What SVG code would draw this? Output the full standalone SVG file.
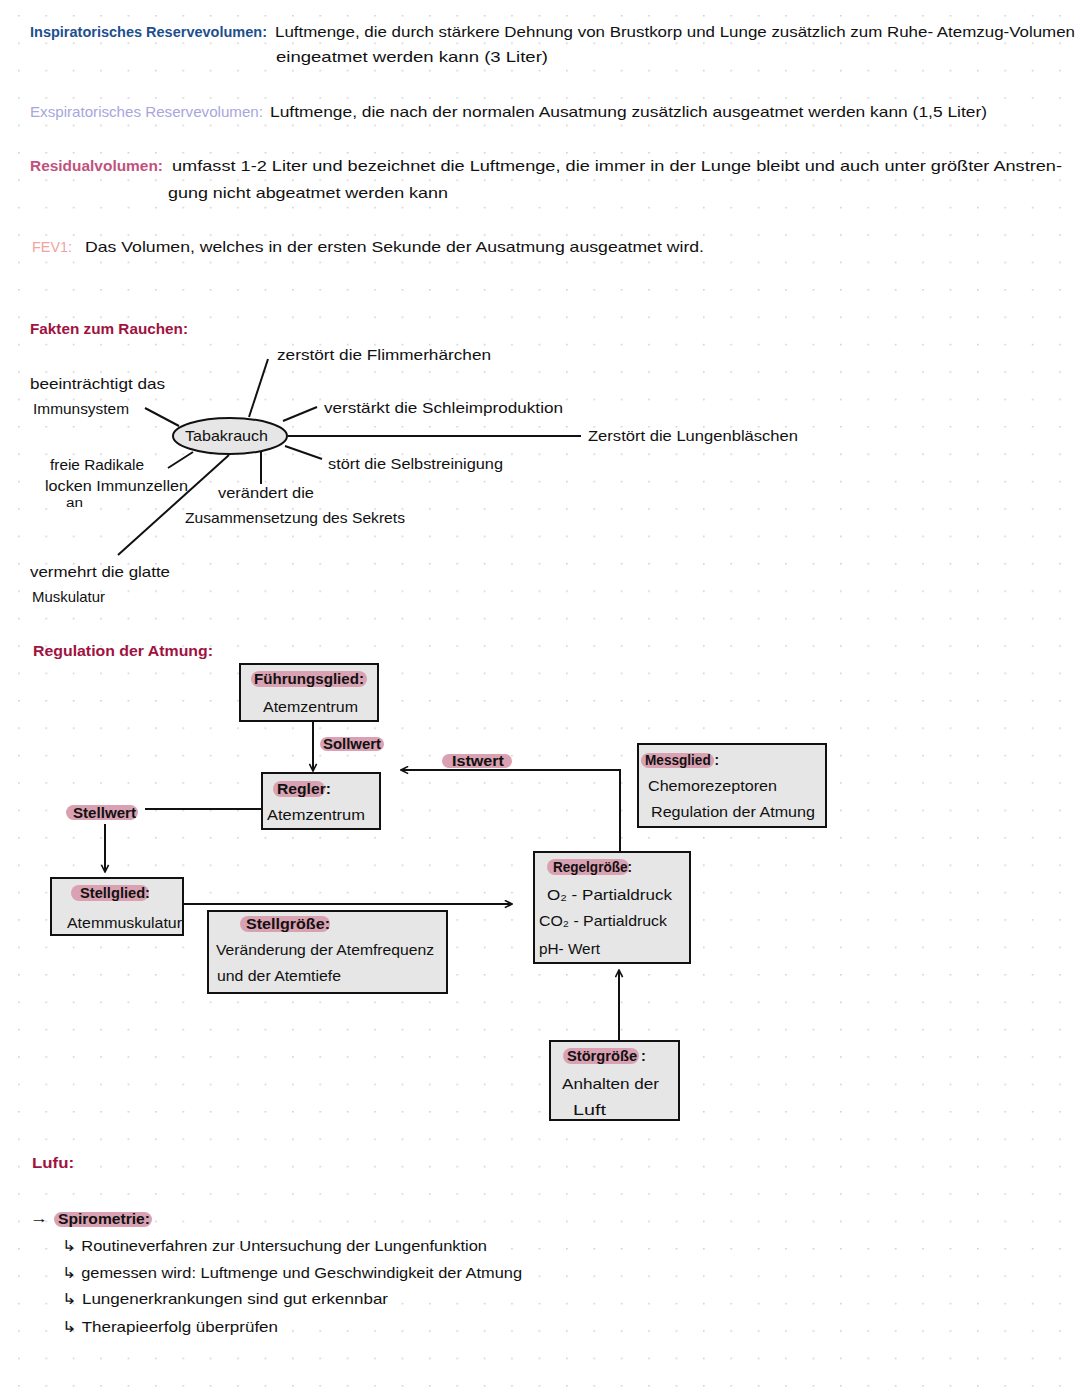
<svg xmlns="http://www.w3.org/2000/svg" width="1080" height="1394" viewBox="0 0 1080 1394">
<defs>
<pattern id="dots" x="18" y="15" width="27.4" height="27.4" patternUnits="userSpaceOnUse">
<circle cx="0.8" cy="0.8" r="0.9" fill="#cfcfcf"/>
</pattern>
<marker id="ah" viewBox="0 0 10 10" refX="9" refY="5" markerWidth="9" markerHeight="9" markerUnits="userSpaceOnUse" orient="auto">
<path d="M1,1 L9,5 L1,9" fill="none" stroke="#111" stroke-width="1.8"/>
</marker>
<style>
text{font-family:"Liberation Sans","Noto Sans",sans-serif;font-size:14.5px;fill:#111;}
.h{fill:#a0123f;font-weight:bold;}
.blue{fill:#1d4f8f;font-weight:bold;}
.lav{fill:#a8a6dd;}
.mau{fill:#c0527e;font-weight:bold;}
.sal{fill:#f2a2a0;}
.b{font-weight:bold;}
.sm{font-size:12px;}
.box{fill:#e6e6e6;stroke:#111;stroke-width:2;}
.hl{fill:#d9a1b1;}
.ln{stroke:#111;stroke-width:2;fill:none;}
</style>
</defs>
<rect width="1080" height="1394" fill="#fff"/>
<rect width="1080" height="1394" fill="url(#dots)"/>

<g id="definitions">
<text x="30" y="37" class="blue" textLength="237" lengthAdjust="spacingAndGlyphs">Inspiratorisches Reservevolumen:</text>
<text x="275" y="37" textLength="800" lengthAdjust="spacingAndGlyphs">Luftmenge, die durch stärkere Dehnung von Brustkorp und Lunge zusätzlich zum Ruhe- Atemzug-Volumen</text>
<text x="276" y="62" textLength="272" lengthAdjust="spacingAndGlyphs">eingeatmet werden kann   (3 Liter)</text>
<text x="30" y="117" class="lav" textLength="233" lengthAdjust="spacingAndGlyphs">Exspiratorisches Reservevolumen:</text>
<text x="270" y="117" textLength="717" lengthAdjust="spacingAndGlyphs">Luftmenge, die nach der normalen Ausatmung zusätzlich ausgeatmet werden kann   (1,5 Liter)</text>
<text x="30" y="171" class="mau" textLength="133" lengthAdjust="spacingAndGlyphs">Residualvolumen:</text>
<text x="172" y="171" textLength="890" lengthAdjust="spacingAndGlyphs">umfasst 1-2 Liter und bezeichnet die Luftmenge, die immer in der Lunge bleibt und auch unter größter Anstren-</text>
<text x="168" y="198" textLength="280" lengthAdjust="spacingAndGlyphs">gung nicht abgeatmet werden kann</text>
<text x="32" y="252" class="sal" textLength="40" lengthAdjust="spacingAndGlyphs">FEV1:</text>
<text x="85" y="252" textLength="619" lengthAdjust="spacingAndGlyphs">Das Volumen, welches in der ersten Sekunde der Ausatmung ausgeatmet wird.</text>
</g>

<g id="rauchen">
<text x="30" y="334" class="h" textLength="158" lengthAdjust="spacingAndGlyphs">Fakten zum Rauchen:</text>
<g id="mm-connectors">
<line class="ln" x1="249" y1="417" x2="268" y2="359"/>
<line class="ln" x1="145" y1="408" x2="179" y2="426"/>
<line class="ln" x1="283" y1="421" x2="317" y2="407"/>
<line class="ln" x1="288" y1="436" x2="581" y2="436"/>
<line class="ln" x1="285" y1="446" x2="322" y2="459"/>
<line class="ln" x1="168" y1="468" x2="193" y2="452"/>
<line class="ln" x1="261" y1="452" x2="261" y2="484"/>
<line class="ln" x1="229" y1="455" x2="118" y2="555"/>
</g>
<g id="tabakrauch">
<ellipse cx="230" cy="436" rx="57" ry="18" fill="#e6e6e6" stroke="#111" stroke-width="2"/>
<text x="185" y="441" textLength="83" lengthAdjust="spacingAndGlyphs">Tabakrauch</text>
</g>
<text x="277" y="360" textLength="214" lengthAdjust="spacingAndGlyphs">zerstört die Flimmerhärchen</text>
<text x="30" y="389" textLength="135" lengthAdjust="spacingAndGlyphs">beeinträchtigt das</text>
<text x="33" y="414" textLength="96" lengthAdjust="spacingAndGlyphs">Immunsystem</text>
<text x="324" y="413" textLength="239" lengthAdjust="spacingAndGlyphs">verstärkt  die Schleimproduktion</text>
<text x="588" y="441" textLength="210" lengthAdjust="spacingAndGlyphs">Zerstört die Lungenbläschen</text>
<text x="328" y="469" textLength="175" lengthAdjust="spacingAndGlyphs">stört die Selbstreinigung</text>
<text x="50" y="470" textLength="94" lengthAdjust="spacingAndGlyphs">freie Radikale</text>
<text x="45" y="491" textLength="143" lengthAdjust="spacingAndGlyphs">locken Immunzellen</text>
<text x="66" y="507" class="sm" textLength="17" lengthAdjust="spacingAndGlyphs">an</text>
<text x="218" y="498" textLength="96" lengthAdjust="spacingAndGlyphs">verändert die</text>
<text x="185" y="523" textLength="220" lengthAdjust="spacingAndGlyphs">Zusammensetzung des Sekrets</text>
<text x="30" y="577" textLength="140" lengthAdjust="spacingAndGlyphs">vermehrt die glatte</text>
<text x="32" y="602" textLength="73" lengthAdjust="spacingAndGlyphs">Muskulatur</text>
</g>

<g id="regulation">
<text x="33" y="656" class="h" textLength="180" lengthAdjust="spacingAndGlyphs">Regulation der Atmung:</text>

<g id="connectors">
<line class="ln" x1="313" y1="722" x2="313" y2="771" marker-end="url(#ah)"/>
<line class="ln" x1="145" y1="809" x2="262" y2="809"/>
<line class="ln" x1="105" y1="824" x2="105" y2="872" marker-end="url(#ah)"/>
<line class="ln" x1="184" y1="904" x2="512" y2="904" marker-end="url(#ah)"/>
<polyline class="ln" points="620,852 620,770 401,770" marker-end="url(#ah)"/>
<line class="ln" x1="619" y1="1041" x2="619" y2="970" marker-end="url(#ah)"/>
</g>

<g id="fuehrungsglied">
<rect class="box" x="240" y="664" width="138" height="57"/>
<rect class="hl" x="251" y="671" width="116" height="16" rx="8"/>
<text x="254" y="684" class="b" textLength="110" lengthAdjust="spacingAndGlyphs">Führungsglied:</text>
<text x="263" y="712" textLength="95" lengthAdjust="spacingAndGlyphs">Atemzentrum</text>
</g>
<g id="sollwert">
<rect class="hl" x="320" y="737" width="64" height="14" rx="7"/>
<text x="323" y="749" class="b" textLength="58" lengthAdjust="spacingAndGlyphs">Sollwert</text>
</g>
<g id="regler">
<rect class="box" x="262" y="773" width="118" height="56"/>
<rect class="hl" x="273" y="781" width="52" height="16" rx="8"/>
<text x="277" y="794" class="b" textLength="54" lengthAdjust="spacingAndGlyphs">Regler:</text>
<text x="267" y="820" textLength="98" lengthAdjust="spacingAndGlyphs">Atemzentrum</text>
</g>
<g id="istwert">
<rect class="hl" x="442" y="754" width="70" height="14" rx="7"/>
<text x="452" y="766" class="b" textLength="52" lengthAdjust="spacingAndGlyphs">Istwert</text>
</g>
<g id="stellwert">
<rect class="hl" x="66" y="805" width="72" height="15" rx="7.5"/>
<text x="73" y="818" class="b" textLength="63" lengthAdjust="spacingAndGlyphs">Stellwert</text>
</g>
<g id="messglied">
<rect class="box" x="638" y="744" width="188" height="83"/>
<rect class="hl" x="641" y="753" width="73" height="15" rx="7.5"/>
<text x="645" y="765" class="b" textLength="74" lengthAdjust="spacingAndGlyphs">Messglied :</text>
<text x="648" y="791" textLength="129" lengthAdjust="spacingAndGlyphs">Chemorezeptoren</text>
<text x="651" y="817" textLength="164" lengthAdjust="spacingAndGlyphs">Regulation der Atmung</text>
</g>
<g id="stellglied">
<rect class="box" x="51" y="878" width="132" height="57"/>
<rect class="hl" x="71" y="885" width="78" height="16" rx="8"/>
<text x="80" y="898" class="b" textLength="70" lengthAdjust="spacingAndGlyphs">Stellglied:</text>
<text x="67" y="928" textLength="115" lengthAdjust="spacingAndGlyphs">Atemmuskulatur</text>
</g>
<g id="stellgroesse">
<rect class="box" x="208" y="911" width="239" height="82"/>
<rect class="hl" x="240" y="916" width="90" height="16" rx="8"/>
<text x="246" y="929" class="b" textLength="84" lengthAdjust="spacingAndGlyphs">Stellgröße:</text>
<text x="216" y="955" textLength="218" lengthAdjust="spacingAndGlyphs">Veränderung der Atemfrequenz</text>
<text x="217" y="981" textLength="124" lengthAdjust="spacingAndGlyphs">und der Atemtiefe</text>
</g>
<g id="regelgroesse">
<rect class="box" x="534" y="852" width="156" height="111"/>
<rect class="hl" x="547" y="859" width="82" height="16" rx="8"/>
<text x="553" y="872" class="b" textLength="79" lengthAdjust="spacingAndGlyphs">Regelgröße:</text>
<text x="547" y="900" textLength="125" lengthAdjust="spacingAndGlyphs">O₂  - Partialdruck</text>
<text x="539" y="926" textLength="128" lengthAdjust="spacingAndGlyphs">CO₂ - Partialdruck</text>
<text x="539" y="954" textLength="61" lengthAdjust="spacingAndGlyphs">pH- Wert</text>
</g>
<g id="stoergroesse">
<rect class="box" x="550" y="1041" width="129" height="79"/>
<rect class="hl" x="563" y="1048" width="76" height="16" rx="8"/>
<text x="567" y="1061" class="b" textLength="79" lengthAdjust="spacingAndGlyphs">Störgröße :</text>
<text x="562" y="1089" textLength="97" lengthAdjust="spacingAndGlyphs">Anhalten der</text>
<text x="573" y="1115" textLength="33" lengthAdjust="spacingAndGlyphs">Luft</text>
</g>
</g>

<g id="lufu">
<text x="32" y="1168" class="h" textLength="42" lengthAdjust="spacingAndGlyphs">Lufu:</text>
<text x="30" y="1223" textLength="18" lengthAdjust="spacingAndGlyphs">→</text>
<rect class="hl" x="54" y="1212" width="98" height="15" rx="7.5"/>
<text x="58" y="1224" class="b" textLength="92" lengthAdjust="spacingAndGlyphs">Spirometrie:</text>
<text x="62" y="1251" textLength="425" lengthAdjust="spacingAndGlyphs">↳  Routineverfahren zur Untersuchung der Lungenfunktion</text>
<text x="62" y="1278" textLength="460" lengthAdjust="spacingAndGlyphs">↳  gemessen wird: Luftmenge und Geschwindigkeit der Atmung</text>
<text x="62" y="1304" textLength="326" lengthAdjust="spacingAndGlyphs">↳  Lungenerkrankungen sind gut erkennbar</text>
<text x="62" y="1332" textLength="216" lengthAdjust="spacingAndGlyphs">↳  Therapieerfolg überprüfen</text>
</g>
</svg>
